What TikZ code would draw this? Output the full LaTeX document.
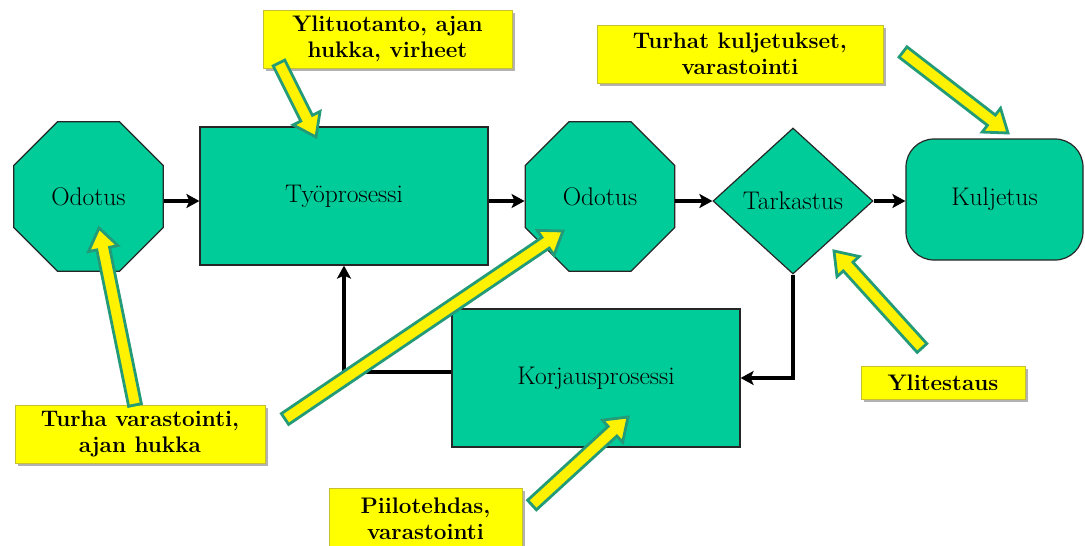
\documentclass[tikz,border=0pt]{standalone}
\usetikzlibrary{shapes.geometric,arrows.meta,calc,shadows}
\definecolor{shapegreen}{RGB}{0,204,153}
\definecolor{arrowedge}{RGB}{35,155,120}
\definecolor{boxyellow}{RGB}{255,255,0}
\tikzset{
  proc/.style={draw=black!85, line width=1.2pt, fill=shapegreen,
    font=\fontsize{25.5}{29}\selectfont, text=black, inner sep=0pt},
  octa/.style={proc, regular polygon, regular polygon sides=8, minimum size=162pt},
  rectproc/.style={proc, rectangle, minimum width=288pt, minimum height=138pt},
  conn/.style={line width=3.5pt, draw=black, -{Stealth[length=13pt,width=14pt,inset=3pt]}},
  lab/.style={fill=boxyellow, draw=yellow!75!black, line width=0.6pt,
    font=\bfseries\fontsize{22.5}{25.5}\selectfont, align=center, inner sep=0pt,
    drop shadow={shadow xshift=2.5pt, shadow yshift=-2.5pt, fill=black, opacity=0.3}},
  yarr/.style={fill=yellow, draw=arrowedge, line width=2.8pt, line join=miter},
}
\newcommand\yellowarrow[2]{%
  \coordinate (yb) at ($(#2)!21pt!(#1)$);
  \draw[yarr] ($(#1)!6.5pt!90:(#2)$) -- ($(yb)!6.5pt!90:(#2)$) -- ($(yb)!15pt!90:(#2)$)
    -- (#2) -- ($(yb)!15pt!-90:(#2)$) -- ($(yb)!6.5pt!-90:(#2)$) -- ($(#1)!6.5pt!-90:(#2)$) -- cycle;
}
\begin{document}
\begin{tikzpicture}[x=1pt,y=-1pt]
\useasboundingbox (0,0) rectangle (1085,546);
\fill[white] (0,0) rectangle (1085,546);

% process shapes
\node[octa] (o1) at (88.5,196.5) {Odotus};
\node[rectproc] (tyo) at (344,196) {Työprosessi};
\node[octa] (o2) at (600,196.5) {Odotus};
\node[proc, diamond, minimum width=160pt, minimum height=146pt, aspect=1.1] (tark) at (793,201) {Tarkastus};
\node[proc, rectangle, rounded corners=28pt, minimum width=177pt, minimum height=121pt] (kul) at (994.5,199.5) {Kuljetus};
\node[rectproc] (korj) at (596,378) {Korjausprosessi};

% connectors
\draw[conn] (o1.east |- tark.west) -- (tyo.west |- tark.west);
\draw[conn] (tyo.east |- tark.west) -- (o2.west |- tark.west);
\draw[conn] (o2.east |- tark.west) -- (tark.west);
\draw[conn] (tark.east) -- (kul.west |- tark.east);
\draw[conn] (tark.south) |- (korj.east);
\draw[conn] ([yshift=6pt]korj.west) -| (tyo.south);

% label boxes
\node[lab, minimum width=249pt, minimum height=58pt] (l1) at (387.5,39) {Ylituotanto, ajan\\hukka, virheet};
\node[lab, minimum width=286pt, minimum height=58pt] (l2) at (740,54) {Turhat kuljetukset,\\varastointi};
\node[lab, minimum width=250pt, minimum height=58pt] (l3) at (140,434) {Turha varastointi,\\ajan hukka};
\node[lab, minimum width=193pt, minimum height=62pt] (l4) at (425.5,519) {Piilotehdas,\\varastointi};
\node[lab, minimum width=164pt, minimum height=33pt] (l5) at (943,382.5) {Ylitestaus};

% yellow arrows
\coordinate (a1t) at (279,63);  \coordinate (a1h) at (316,137);
\coordinate (a2t) at (135,405); \coordinate (a2h) at (99,228);
\coordinate (a3t) at (285,419); \coordinate (a3h) at (563,231);
\coordinate (a4t) at (532,505); \coordinate (a4h) at (628,417);
\coordinate (a5t) at (922,348); \coordinate (a5h) at (834,251);
\coordinate (a6t) at (903,52);  \coordinate (a6h) at (1008,133);
\yellowarrow{a1t}{a1h}
\yellowarrow{a2t}{a2h}
\yellowarrow{a3t}{a3h}
\yellowarrow{a4t}{a4h}
\yellowarrow{a5t}{a5h}
\yellowarrow{a6t}{a6h}
\end{tikzpicture}
\end{document}
